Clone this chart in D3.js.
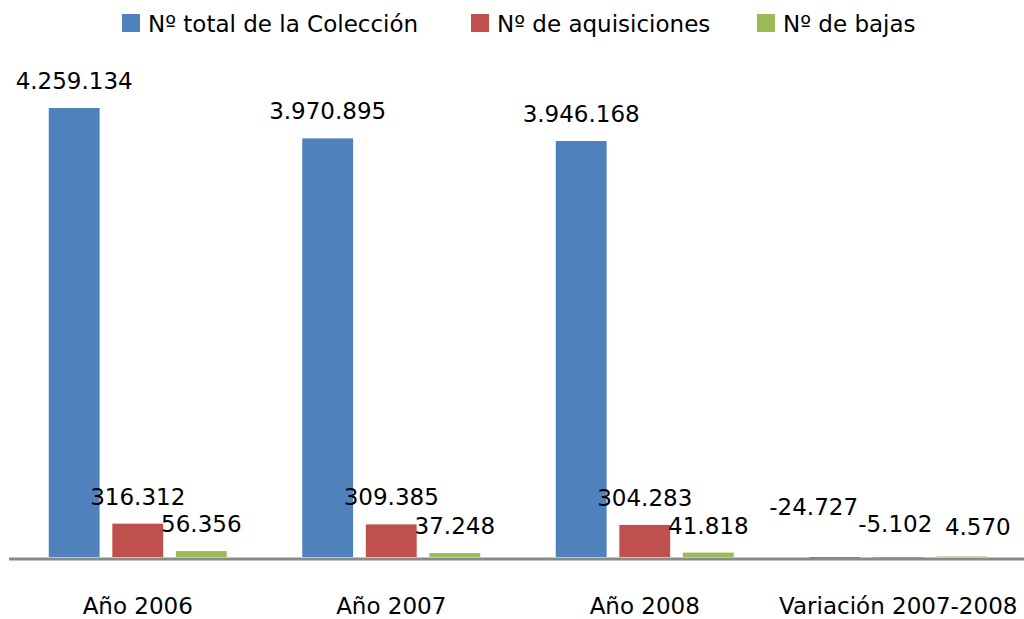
<!DOCTYPE html>
<html>
<head>
<meta charset="utf-8">
<script src="https://cdn.jsdelivr.net/npm/d3@7"></script>
<style>
  body { margin: 0; background: #fff; }
  text { font-family: "DejaVu Sans", sans-serif; fill: #000; }
</style>
</head>
<body>
<script>
// chart data
var categories = ["Año 2006", "Año 2007", "Año 2008", "Variación 2007-2008"];
var seriesNames = ["Nº total de la Colección", "Nº de aquisiciones", "Nº de bajas"];
var totalColeccion = [4259134, 3970895, 3946168, -24727];
var aquisiciones = [316312, 309385, 304283, -5102];
var bajas = [56356, 37248, 41818, 4570];
var labelText = [
  ["4.259.134", "3.970.895", "3.946.168", "-24.727"],
  ["316.312", "309.385", "304.283", "-5.102"],
  ["56.356", "37.248", "41.818", "4.570"]
];

var colors = ["#4F81BD", "#C0504D", "#9BBB59"];
var series = [totalColeccion, aquisiciones, bajas];

// labels in the last group were moved by hand in the original so they do not overlap
var labelNudge = { "3-0": [-21, -23], "3-1": [-3, -6], "3-2": [16, -3] };

function init () {
  'use strict';
  var w = 1024, h = 619;

  var svg = d3.select("body").append("svg")
    .attr("width", w)
    .attr("height", h);

  var x0 = d3.scaleBand()
    .domain(d3.range(categories.length))
    .range([11, 1025]);

  var pad = 37.75;
  var x1 = d3.scaleBand()
    .domain(d3.range(series.length))
    .range([pad, x0.bandwidth() - pad])
    .paddingInner(0.2);

  var y = d3.scaleLinear()
    .domain([0, d3.max(totalColeccion)])
    .range([557, 108]);

  var rows = [];
  series.forEach(function(vals, s) {
    vals.forEach(function(v, c) {
      rows.push({ s: s, c: c, v: v, label: labelText[s][c] });
    });
  });

  svg.selectAll("rect.bar")
    .data(rows)
    .enter()
    .append("rect")
    .attr("class", "bar")
    .attr("x", function(d) { return x0(d.c) + x1(d.s); })
    .attr("y", function(d) { return Math.min(y(d.v), y(0)); })
    .attr("width", x1.bandwidth())
    .attr("height", function(d) { return Math.abs(y(d.v) - y(0)); })
    .attr("fill", function(d) { return colors[d.s]; });

  // horizontal axis line
  svg.append("line")
    .attr("x1", 9)
    .attr("x2", w)
    .attr("y1", y(0) + 2)
    .attr("y2", y(0) + 2)
    .attr("stroke", "#8a8a8a")
    .attr("stroke-width", 3);

  // data labels
  svg.selectAll("text.lbl")
    .data(rows)
    .enter()
    .append("text")
    .attr("class", "lbl")
    .attr("text-anchor", "middle")
    .style("font-size", "23px")
    .attr("x", function(d) {
      var n = labelNudge[d.c + "-" + d.s];
      return x0(d.c) + x1(d.s) + x1.bandwidth() / 2 + (n ? n[0] : 0);
    })
    .attr("y", function(d) {
      var n = labelNudge[d.c + "-" + d.s];
      return Math.min(y(d.v), y(0)) - 19 + (n ? n[1] : 0);
    })
    .text(function(d) { return d.label; });

  // category labels
  svg.selectAll("text.cat")
    .data(categories)
    .enter()
    .append("text")
    .attr("class", "cat")
    .attr("text-anchor", "middle")
    .style("font-size", "23px")
    .attr("x", function(d, i) { return x0(i) + x0.bandwidth() / 2; })
    .attr("y", 614)
    .text(function(d) { return d; });

  // legend
  var legendX = [122, 471, 757];
  var leg = svg.selectAll("g.leg")
    .data(seriesNames)
    .enter()
    .append("g")
    .attr("class", "leg")
    .attr("transform", function(d, i) { return "translate(" + legendX[i] + ",0)"; });

  leg.append("rect")
    .attr("x", 0)
    .attr("y", 14)
    .attr("width", 18)
    .attr("height", 18)
    .attr("fill", function(d, i) { return colors[i]; });

  leg.append("text")
    .attr("x", 26)
    .attr("y", 32)
    .style("font-size", "23px")
    .text(function(d) { return d; });
}

window.onload = init;
</script>
</body>
</html>
